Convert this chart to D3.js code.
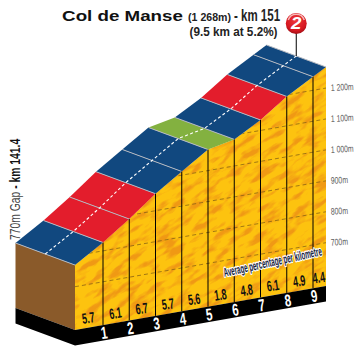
<!DOCTYPE html>
<html>
<head>
<meta charset="utf-8">
<script src="https://cdn.jsdelivr.net/npm/d3@7"></script>
<style>
html,body{margin:0;padding:0;background:#fff}
svg{display:block}
text{font-family:"Liberation Sans",Arial,sans-serif}
</style>
</head>
<body>
<svg id="chart" width="361" height="357"></svg>
<script>
// km marks along the climb and altitude read at each one
var kmMarks = [0, 1, 2, 3, 4, 5, 6, 7, 8, 9, 9.5]
var altitudes = [770, 827, 888, 955, 1012, 1068, 1086, 1134, 1195, 1244, 1268]
var gradients = [5.7, 6.1, 6.7, 5.7, 5.6, 1.8, 4.8, 6.1, 4.9, 4.4]
var kmLabels = [1, 2, 3, 4, 5, 6, 7, 8, 9]
var gridAltitudes = [700, 800, 900, 1000, 1100, 1200]
var gridLabels = ["700m", "800m", "900m", "1 000m", "1 100m", "1 200m"]

var svg = d3.select("#chart")
var defs = svg.append("defs")

// first km is drawn a bit longer than the others in the picture
var x = d3.scaleLinear().domain([0, 1, 9, 9.5]).range([75, 103, 313, 326])
// the ground line climbs to the right, altitude is measured up from it
var groundPx = d3.scaleLinear().domain([75, 326]).range([330, 286])
var ground = km => groundPx(x(km))
var height = d3.scaleLinear().domain([560, 1268]).range([0, 219])
var roadColor = d3.scaleThreshold().domain([3, 6]).range(["#83b140", "#11487f", "#e31d2c"])

var depth = [-59.5, -22]   //road goes to the back of the picture
var bandH = 15.5

function yAt(km, alt) { return ground(km) - height(alt) }
function pts(a) { return a.map(p => p.join(",")).join(" ") }

var profile = kmMarks.map((k, i) => [x(k), yAt(k, altitudes[i])])

//* gradient face with the rock texture, streaks go along the diagonal
var facePoly = profile.concat([[x(9.5), ground(9.5)], [x(0), ground(0)]])
defs.append("clipPath").attr("id", "faceClip").append("polygon").attr("points", pts(facePoly))

var rock = defs.append("filter").attr("id", "rock").attr("x", 0).attr("y", 0).attr("width", 1).attr("height", 1)
    .attr("color-interpolation-filters", "sRGB")
rock.append("feTurbulence").attr("type", "fractalNoise").attr("baseFrequency", "0.05 0.16")
    .attr("numOctaves", 3).attr("seed", 11).attr("result", "n")
rock.append("feColorMatrix").attr("in", "n").attr("type", "matrix")
    .attr("values", "0 0 0 0 0.94  0 0 0 0 0.6  0 0 0 0 0.08  4.2 0 0 0 -1.95")

svg.append("polygon").attr("points", pts(facePoly)).attr("fill", "#fdc30f")
svg.append("g").attr("clip-path", "url(#faceClip)")
    .append("rect").attr("x", -100).attr("y", -100).attr("width", 560).attr("height", 560)
    .attr("transform", "rotate(-35 200 200)")
    .attr("filter", "url(#rock)")

//* altitude lines
var faceG = svg.append("g").attr("clip-path", "url(#faceClip)")
faceG.selectAll("line.grid").data(gridAltitudes).join("line").attr("class", "grid")
    .attr("x1", x(0)).attr("x2", x(9.5))
    .attr("y1", d => yAt(0, d)).attr("y2", d => yAt(9.5, d))
    .attr("stroke", "#8a6414").attr("stroke-width", 0.8).attr("stroke-dasharray", "4,3")

//* brown side and black band
svg.append("polygon").attr("fill", "#8a5a2a").attr("points", pts([
    [x(0) + depth[0], yAt(0, altitudes[0]) + depth[1]],
    profile[0],
    [x(0), ground(0)],
    [x(0) + depth[0], ground(0) + depth[1]]
]))
svg.append("polygon").attr("fill", "#000").attr("points", pts([
    [x(0) + depth[0], ground(0) + depth[1]],
    [x(0), ground(0)],
    [x(9.5), ground(9.5)],
    [x(9.5), ground(9.5) + bandH],
    [x(0), ground(0) + bandH],
    [x(0) + depth[0], ground(0) + depth[1] + bandH]
]))

//* road, one piece per kilometre
var road = gradients.map((g, i) => ({g: g, a: profile[i], b: profile[i + 1]}))
svg.selectAll("polygon.road").data(road).join("polygon").attr("class", "road")
    .attr("fill", d => roadColor(d.g))
    .attr("points", d => pts([d.a, d.b, [d.b[0] + depth[0], d.b[1] + depth[1]], [d.a[0] + depth[0], d.a[1] + depth[1]]]))
svg.selectAll("line.div").data(profile).join("line").attr("class", "div")
    .attr("x1", d => d[0]).attr("y1", d => d[1])
    .attr("x2", d => d[0] + depth[0]).attr("y2", d => d[1] + depth[1])
    .attr("stroke", "#b4b8c0").attr("stroke-width", 1)
// center line of the road
svg.append("polyline").attr("fill", "none").attr("stroke", "#fff").attr("stroke-width", 1.1)
    .attr("stroke-dasharray", "3,2.4")
    .attr("points", pts(profile.map(p => [p[0] + depth[0] / 2, p[1] + depth[1] / 2])))

//* km separators
svg.selectAll("line.km").data(kmLabels).join("line").attr("class", "km")
    .attr("x1", d => x(d)).attr("x2", d => x(d))
    .attr("y1", (d, i) => profile[i + 1][1]).attr("y2", d => ground(d))
    .attr("stroke", "#000").attr("stroke-width", 1)

//? small helper, narrow rotated text
function putText(s, px, py, size, angle, sx, attrs) {
    var t = svg.append("text").text(s).attr("font-size", size).attr("text-anchor", "middle")
        .attr("transform", "translate(" + px + "," + py + ") rotate(" + angle + ") scale(" + sx + ",1)")
    for (var k in attrs) t.attr(k, attrs[k])
    return t
}

gradients.forEach((g, i) => {
    var m = (kmMarks[i] + kmMarks[i + 1]) / 2
    putText(g.toFixed(1), x(m), ground(m) - 4.5, 15, -8, 0.6, {"font-weight": "bold", fill: "#111"})
})
kmLabels.forEach(k => {
    putText(k, x(k) + 2, ground(k) + 13.5, 17, -8, 0.68, {"font-weight": "bold", fill: "#fff"})
})

gridAltitudes.forEach((a, i) => {
    putText(gridLabels[i], 331, yAt(9.5, a) + 3, 9.5, -3, 0.72, {"text-anchor": "start", fill: "#5b5b5b"})
})

putText("Average percentage per kilometre", 273.5, 266, 12.5, -12.5, 0.5, {
    "font-weight": "bold", fill: "#17233f", stroke: "#fff", "stroke-width": 2.6,
    "paint-order": "stroke", "stroke-linejoin": "round"
})

//* titles
putText("Col de Manse", 122.5, 21, 15, 0, 1.25, {"font-weight": "bold", fill: "#111"})
putText("(1 268m)", 209.5, 20.5, 11.5, 0, 0.92, {"font-weight": "bold", fill: "#222"})
putText("- km 151", 257, 20.5, 16, 0, 0.72, {"font-weight": "bold", fill: "#222"})
putText("(9.5 km at 5.2%)", 233.5, 36, 13.5, 0, 0.87, {"font-weight": "bold", fill: "#222"})

var side = svg.append("text").attr("transform", "translate(20,240) rotate(-90) scale(0.69,1)").attr("font-size", 15)
side.append("tspan").text("770m Gap ").attr("fill", "#444")
side.append("tspan").text("- km 141.4").attr("font-weight", "bold").attr("fill", "#111")

//* summit flag
var summit = [profile[10][0] + depth[0] / 2, profile[10][1] + depth[1] / 2]
svg.append("line").attr("x1", summit[0]).attr("x2", summit[0]).attr("y1", 30).attr("y2", summit[1])
    .attr("stroke", "#000").attr("stroke-width", 1)
var badge = defs.append("radialGradient").attr("id", "badge").attr("cx", "50%").attr("cy", "35%").attr("r", "70%")
badge.append("stop").attr("offset", "0%").attr("stop-color", "#ef3a3e")
badge.append("stop").attr("offset", "70%").attr("stop-color", "#d5171f")
badge.append("stop").attr("offset", "100%").attr("stop-color", "#8f0d14")
svg.append("circle").attr("cx", summit[0]).attr("cy", 23.5).attr("r", 10.5).attr("fill", "url(#badge)")
svg.append("path").attr("d", "M" + (summit[0] - 8) + ",20 A8.5,8.5 0 0 1 " + (summit[0] + 8) + ",20")
    .attr("fill", "none").attr("stroke", "#f5b9b9").attr("stroke-width", 1.5)
putText("2", summit[0], 29, 17, 0, 1.1, {"font-weight": "bold", "font-style": "italic", fill: "#fff"})
</script>
</body>
</html>
